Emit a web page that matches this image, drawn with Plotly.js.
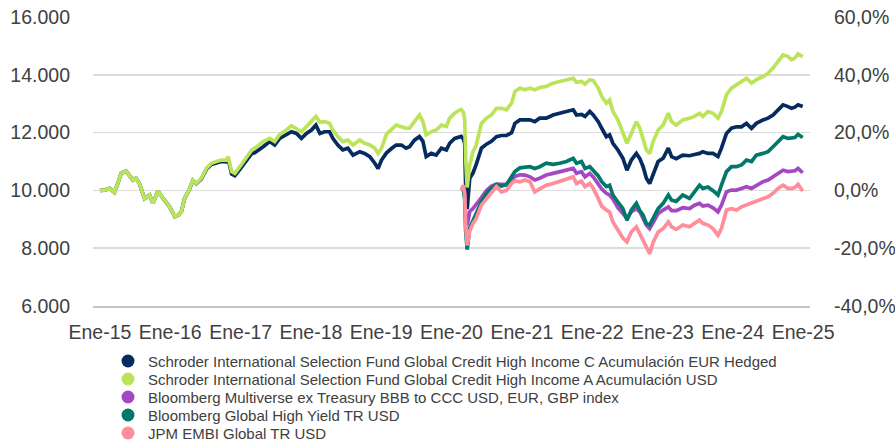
<!DOCTYPE html>
<html><head><meta charset="utf-8">
<script src="https://cdn.plot.ly/plotly-3.0.1.min.js"></script>
<style>html,body{margin:0;padding:0;background:#fff}#chart{width:895px;height:442px}</style>
</head><body><div id="chart"></div>
<script>
const dates = ['2015-01-01','2015-01-26','2015-02-21','2015-03-17','2015-04-01','2015-04-21','2015-05-17','2015-06-04','2015-06-21','2015-07-08',
'2015-07-25','2015-08-21','2015-09-16','2015-10-03','2015-10-29','2015-11-25','2015-12-12','2015-12-29','2016-01-25','2016-02-11',
'2016-02-28','2016-03-16','2016-04-11','2016-04-28','2016-05-16','2016-06-11','2016-07-07','2016-08-02','2016-08-28','2016-09-24',
'2016-10-20','2016-10-28','2016-11-15','2016-12-02','2016-12-28','2017-01-23','2017-02-28','2017-03-15','2017-03-24','2017-04-28',
'2017-06-01','2017-06-27','2017-07-23','2017-08-27','2017-09-22','2017-10-18','2017-11-13','2017-12-09','2018-01-04','2018-01-27',
'2018-02-17','2018-03-13','2018-04-08','2018-04-25','2018-05-21','2018-06-16','2018-07-12','2018-08-08','2018-09-12','2018-10-07',
'2018-11-03','2018-11-29','2018-12-16','2019-01-03','2019-01-29','2019-02-24','2019-03-20','2019-04-16','2019-05-11','2019-05-28',
'2019-06-23','2019-07-19','2019-08-06','2019-08-23','2019-09-19','2019-10-14','2019-11-10','2019-12-06','2019-12-23','2020-01-18',
'2020-02-14','2020-02-21','2020-03-03','2020-03-10','2020-03-15','2020-03-23','2020-04-05','2020-04-22','2020-05-09','2020-06-05',
'2020-07-01','2020-07-27','2020-08-22','2020-09-17','2020-10-13','2020-11-09','2020-11-26','2020-12-22','2021-01-17','2021-02-12',
'2021-03-09','2021-04-04','2021-05-08','2021-06-12','2021-07-16','2021-08-21','2021-09-25','2021-10-12','2021-11-07','2021-11-25',
'2021-12-20','2022-01-07','2022-02-02','2022-02-20','2022-03-16','2022-04-02','2022-04-19','2022-05-15','2022-06-10','2022-07-01',
'2022-07-24','2022-08-19','2022-09-06','2022-09-23','2022-10-10','2022-10-27','2022-11-14','2022-12-10','2023-01-05','2023-02-01',
'2023-02-18','2023-03-14','2023-04-17','2023-05-22','2023-06-17','2023-07-13','2023-07-30','2023-08-26','2023-09-21','2023-10-17',
'2023-11-04','2023-11-30','2023-12-26','2024-01-21','2024-02-16','2024-03-13','2024-04-08','2024-05-03','2024-06-07','2024-07-03',
'2024-07-29','2024-08-24','2024-09-19','2024-10-15','2024-11-02','2024-11-19','2024-12-06','2024-12-30'];

// Schroder ISF Global Credit High Income C Acc EUR Hedged
const fundC = [10000,10010,10070,9930,10180,10590,10670,10530,10360,10420,
10240,9720,9840,9550,9980,9720,9550,9430,9090,9140,
9260,9720,10060,10350,10230,10400,10730,10900,10950,11000,
10990,11100,10570,10510,10730,10950,11280,11300,11340,11510,
11690,11570,11800,11940,12030,11970,11800,11970,12090,12260,
11970,12030,12030,11800,11570,11400,11460,11220,11340,11280,
11170,10940,10760,11050,11300,11450,11570,11570,11460,11510,
11740,11860,11700,11170,11280,11220,11460,11400,11630,11800,
11860,11870,11780,11630,10180,9350,10420,10600,10900,11460,
11600,11700,11860,11900,11900,12000,12320,12440,12440,12440,
12380,12500,12500,12610,12670,12730,12790,12610,12630,12560,
12730,12610,12380,12150,11860,11920,11630,11400,11110,10700,
11050,11280,11100,10820,10420,10240,10590,11000,11110,11460,
11170,11100,11220,11200,11240,11280,11340,11280,11280,11170,
11460,11970,12150,12200,12200,12320,12150,12320,12440,12500,
12610,12790,12960,12900,12840,12880,12960,12900];

// Schroder ISF Global Credit High Income A Acc USD
const fundA = [10000,10010,10070,9930,10180,10590,10670,10530,10360,10420,
10240,9720,9840,9550,9980,9720,9550,9430,9090,9140,
9260,9720,10070,10360,10240,10420,10760,10940,11000,11050,
11050,11170,10650,10590,10820,11050,11400,11460,11510,11690,
11800,11690,11940,12090,12240,12150,12030,12210,12380,12560,
12360,12380,12320,12090,11860,11690,11740,11570,11740,11630,
11570,11460,11280,11460,11950,12090,12260,12200,12150,12150,
12380,12610,12380,11920,12030,12090,12260,12210,12500,12670,
12790,12800,12700,12460,11110,10100,10880,11340,11570,12320,
12500,12610,12840,12840,12790,13020,13420,13540,13480,13540,
13480,13560,13600,13710,13770,13830,13880,13740,13770,13680,
13830,13800,13540,13250,13020,13130,12730,12440,11970,11630,
11970,12380,12150,11740,11400,11280,11690,12090,12260,12670,
12380,12260,12440,12500,12560,12670,12560,12730,12670,12500,
12730,13310,13540,13650,13770,13880,13710,13830,13940,14050,
14230,14460,14690,14630,14520,14580,14720,14630];

// Index series start on 2020-02-21 (dates index 81)
const indexStart = 81;
const multiverse = [10000,10030,9800,9100,8800,9260,9370,9500,9750,
10000,10150,10220,10200,10200,10380,10480,10540,10530,10470,
10360,10420,10530,10590,10650,10700,10760,10590,10650,10470,
10590,10470,10250,10050,9900,9840,9700,9400,9200,9030,
9260,9370,9260,9000,8800,8680,8900,9200,9320,9430,
9300,9300,9400,9370,9490,9550,9460,9490,9400,9260,
9490,9950,10010,10010,10070,10130,10070,10180,10300,10360,
10470,10590,10700,10650,10650,10680,10760,10610];
const globalHY = [10000,10050,9700,8600,7950,8700,8950,9200,9600,
9900,10080,10200,10150,10200,10500,10650,10780,10800,10820,
10760,10820,10940,10900,10940,11000,11110,10940,11000,10760,
10820,10700,10500,10300,10130,10180,9840,9600,9370,8970,
9320,9550,9300,9140,8860,8800,9030,9370,9550,9840,
9660,9620,9840,9720,9950,10180,10070,10120,9990,9840,
10180,10650,10820,10820,10880,11050,11000,11220,11280,11340,
11510,11690,11860,11800,11800,11830,11940,11830];
const embi = [10000,10180,9900,8800,8100,8600,8850,9030,9490,
9720,9950,10130,9950,10000,10240,10330,10300,10360,10300,
9950,10050,10180,10240,10300,10390,10470,10240,10320,10130,
10240,10070,9720,9450,9320,9250,8910,8630,8350,8220,
8570,8740,8500,8250,8000,7810,8200,8560,8680,8910,
8740,8650,8800,8740,8860,8970,8860,8800,8680,8450,
8680,9320,9370,9320,9430,9490,9550,9610,9720,9780,
9900,10070,10180,10070,10070,10100,10210,9980];

const seriesNames = [
  'Schroder International Selection Fund Global Credit High Income C Acumulación EUR Hedged',
  'Schroder International Selection Fund Global Credit High Income A Acumulación USD',
  'Bloomberg Multiverse ex Treasury BBB to CCC USD, EUR, GBP index',
  'Bloomberg Global High Yield TR USD',
  'JPM EMBI Global TR USD'
];
const seriesColors = ['#062b5f', '#bce45b', '#a449c2', '#00796a', '#ff8d9b'];

const yearTicks = ['2015-01-01','2016-01-01','2017-01-01','2018-01-01','2019-01-01','2020-01-01','2021-01-01','2022-01-01','2023-01-01','2024-01-01','2025-01-01'];
const yearLabels = ['Ene-15','Ene-16','Ene-17','Ene-18','Ene-19','Ene-20','Ene-21','Ene-22','Ene-23','Ene-24','Ene-25'];
const leftTickVals = [6000, 8000, 10000, 12000, 14000, 16000];
const leftTickLabels = ['6.000', '8.000', '10.000', '12.000', '14.000', '16.000'];
const rightTickVals = [-0.4, -0.2, 0, 0.2, 0.4, 0.6];
const rightTickLabels = ['-40,0%', '-20,0%', '0,0%', '20,0%', '40,0%', '60,0%'];

const indexDates = dates.slice(indexStart);
const allY = [fundC, fundA, multiverse, globalHY, embi];
const allX = [dates, dates, indexDates, indexDates, indexDates];

const FONT = 'Liberation Sans, Arial, sans-serif';
const TXT = '#404040';

const traces = allY.map((y, i) => ({
  x: allX[i], y: y, type: 'scatter', mode: 'lines', name: seriesNames[i],
  line: {color: seriesColors[i], width: 3.7}, showlegend: false
}));
traces.push({x: [dates[0]], y: [0], yaxis: 'y2', mode: 'lines', line: {width: 0}, showlegend: false, hoverinfo: 'skip'});

// plot area in pixels
const PL = 93, PR = 810, PT = 17, PB = 306;
const px2x = p => (p - PL) / (PR - PL);
const py2y = p => (PB - p) / (PB - PT);
const legendRows = [361, 379, 397, 415, 433];

const annotations = seriesNames.map((n, i) => ({
  xref: 'paper', yref: 'paper', x: px2x(146), y: py2y(legendRows[i]),
  xanchor: 'left', yanchor: 'middle', text: n, showarrow: false,
  font: {family: FONT, size: 15, color: TXT}
}));
const shapes = seriesColors.map((c, i) => ({
  type: 'circle', xref: 'paper', yref: 'paper',
  xsizemode: 'pixel', ysizemode: 'pixel',
  xanchor: px2x(128), yanchor: py2y(legendRows[i]),
  x0: -6.5, x1: 6.5, y0: -6.5, y1: 6.5,
  fillcolor: c, line: {width: 0}
}));

const layout = {
  width: 895, height: 442,
  margin: {l: PL, r: 895 - PR, t: PT, b: 442 - PB, autoexpand: false},
  paper_bgcolor: '#fff', plot_bgcolor: '#fff',
  font: {family: FONT, color: TXT},
  showlegend: false,
  xaxis: {
    type: 'date', range: ['2014-11-26', '2025-02-06'],
    tickmode: 'array', tickvals: yearTicks, ticktext: yearLabels,
    showgrid: false, zeroline: false, ticks: '',
    showline: true, linecolor: '#c4c4c4', linewidth: 1.5,
    tickfont: {family: FONT, size: 19.5, color: TXT},
    ticklabelstandoff: 8
  },
  yaxis: {
    range: [6000, 16000], tickmode: 'array', tickvals: leftTickVals, ticktext: leftTickLabels,
    showgrid: true, gridcolor: '#dcdcdc', gridwidth: 1.5, zeroline: false, ticks: '',
    tickfont: {family: FONT, size: 19.5, color: TXT},
    ticklabelstandoff: 22, ticklabelshift: 4.5
  },
  yaxis2: {
    overlaying: 'y', side: 'right', range: [-0.4, 0.6],
    tickmode: 'array', tickvals: rightTickVals, ticktext: rightTickLabels,
    showgrid: false, zeroline: false, ticks: '',
    tickfont: {family: FONT, size: 19.5, color: TXT},
    ticklabelstandoff: 23, ticklabelshift: 4.5
  },
  annotations: annotations,
  shapes: shapes
};

Plotly.newPlot('chart', traces, layout, {staticPlot: true, displayModeBar: false});
</script>
</body></html>
